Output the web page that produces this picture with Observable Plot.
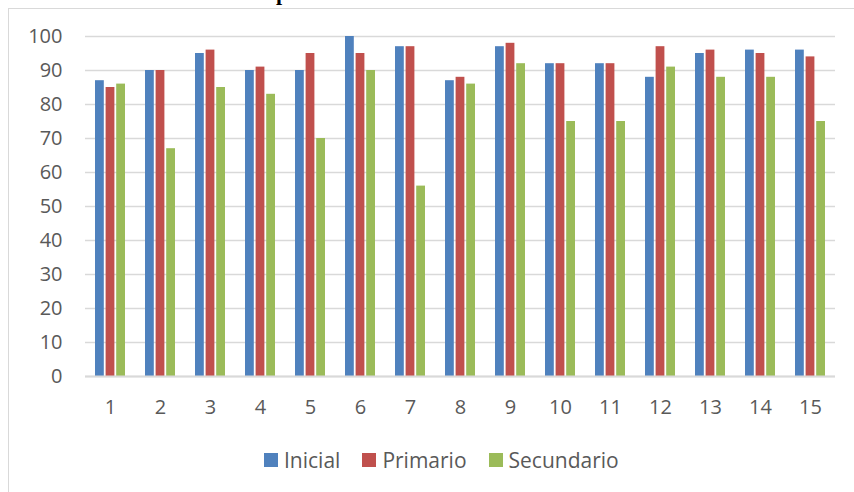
<!DOCTYPE html>
<html lang="es">
<head>
<meta charset="utf-8">
<script src="https://cdn.jsdelivr.net/npm/d3@7"></script>
<script src="https://cdn.jsdelivr.net/npm/@observablehq/plot@0.6"></script>
<style>
  html, body { margin: 0; padding: 0; background: #ffffff; }
  #lienzo { position: relative; width: 854px; height: 492px; overflow: hidden; background: #ffffff; }
  #marco { position: absolute; left: 8px; top: 8px; width: 900px; height: 520px;
           border: 1.5px solid #d9d9d9; box-sizing: border-box; }
  #titulo { position: absolute; left: 276px; top: -18px; font: bold 22px "Liberation Serif", "Times New Roman", serif;
            line-height: 22px; color: #000; white-space: nowrap; }
  #grafico { position: absolute; left: 0; top: 0; }
  #leyenda { position: absolute; left: 264px; top: 443px; }
  #leyenda .leyenda-swatches-wrap { min-height: 34px; }
  #leyenda .leyenda-swatch { margin-right: 22px !important; font: 21px "Open Sans", sans-serif; color: #595959; }
  #leyenda .leyenda-swatch > svg { margin-right: 6px !important; }
</style>
</head>
<body>
<div id="lienzo">
  <div id="marco"></div>
  <div id="titulo">p</div>
  <div id="grafico"></div>
  <div id="leyenda"></div>
</div>
<script>
// Grupos (eje horizontal) y porcentajes por nivel educativo
const grupos = ["1","2","3","4","5","6","7","8","9","10","11","12","13","14","15"];
const inicial = [87, 90, 95, 90, 90, 100, 97, 87, 97, 92, 92, 88, 95, 96, 96];
const primario = [85, 90, 96, 91, 95, 95, 97, 88, 98, 92, 92, 97, 96, 95, 94];
const secundario = [86, 67, 85, 83, 70, 90, 56, 86, 92, 75, 75, 91, 88, 88, 75];
const series = ["Inicial", "Primario", "Secundario"];
const colores = ["#4f81bd", "#c0504d", "#9bbb59"];
const marcasY = [0, 10, 20, 30, 40, 50, 60, 70, 80, 90, 100];

const valores = [inicial, primario, secundario];
const filas = series.flatMap((serie, i) =>
  grupos.map((grupo, j) => ({grupo, serie, valor: valores[i][j]}))
);

// Cada serie ocupa un tercio de la banda del grupo
const anchoBanda = 30, hueco = 1.8;
const anchoBarra = (anchoBanda - 2 * hueco) / 3;
const recortes = series.map((_, i) => ({
  insetLeft: i * (anchoBarra + hueco),
  insetRight: anchoBanda - anchoBarra - i * (anchoBarra + hueco)
}));

const fuente = '"Open Sans", sans-serif';

const grafico = Plot.plot({
  width: 854,
  height: 430,
  marginLeft: 85,
  marginRight: 19,
  marginTop: 36,
  marginBottom: 54,
  style: {background: "transparent", color: "#595959", fontFamily: fuente},
  x: {type: "band", domain: grupos, paddingInner: 0.4, paddingOuter: 0.18, label: null},
  y: {domain: [0, 100], label: null},
  color: {domain: series, range: colores},
  marks: [
    Plot.gridY(marcasY, {stroke: "#d9d9d9", strokeOpacity: 1, strokeWidth: 1.5}),
    ...series.map((serie, i) =>
      Plot.barY(filas.filter(d => d.serie === serie), {
        x: "grupo", y: "valor", fill: "serie", ...recortes[i]
      })
    ),
    Plot.ruleY([0], {stroke: "#d9d9d9", strokeWidth: 2}),
    Plot.axisY({ticks: marcasY, tickSize: 0, tickPadding: 23, fontSize: 20, label: null}),
    Plot.axisX({tickSize: 0, tickPadding: 23, fontSize: 20, label: null})
  ]
});
document.getElementById("grafico").appendChild(grafico);

const leyenda = grafico.legend("color", {
  className: "leyenda",
  swatchSize: 14
});
document.getElementById("leyenda").appendChild(leyenda);
</script>
</body>
</html>
